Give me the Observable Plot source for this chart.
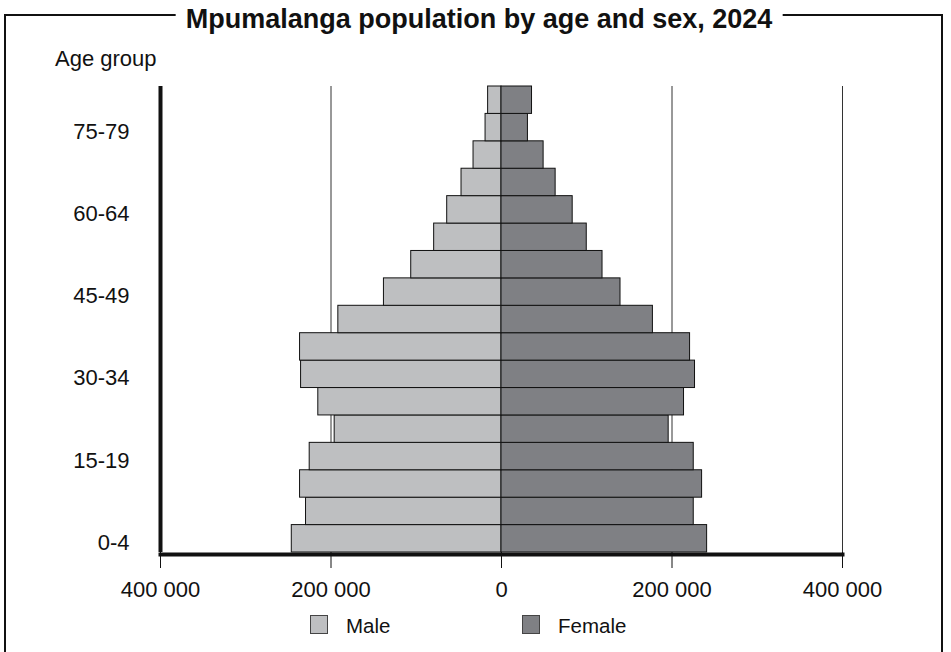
<!DOCTYPE html>
<html>
<head>
<meta charset="utf-8">
<script src="https://cdn.jsdelivr.net/npm/d3@7"></script>
<script src="https://cdn.jsdelivr.net/npm/@observablehq/plot@0.6"></script>
<style>
  html, body { margin: 0; padding: 0; background: #fff; }
  #wrap { position: relative; width: 951px; height: 652px; overflow: hidden; background: #fff;
          font-family: "Liberation Sans", Arial, Helvetica, sans-serif; color: #111; }
  #border { position: absolute; left: 4px; top: 14px; width: 939px; height: 700px;
            border: 2px solid #111; box-sizing: border-box; }
  #title { position: absolute; left: 479px; top: 6px; transform: translateX(-50%);
           background: #fff; padding: 0 10px; font-weight: bold; font-size: 27px;
           line-height: 1; white-space: nowrap; }
  #agelabel { position: absolute; left: 55px; top: 48px; font-size: 22px; line-height: 1; }
  #chart { position: absolute; left: 0; top: 0; }
  .sw { position: absolute; top: 615px; width: 18px; height: 19px; box-sizing: border-box;
        border: 1px solid #444; }
  .lt { position: absolute; top: 616px; font-size: 20.5px; line-height: 1; white-space: nowrap; }
</style>
</head>
<body>
<div id="wrap">
  <div id="border"></div>
  <div id="title">Mpumalanga population by age and sex, 2024</div>
  <div id="agelabel">Age group</div>
  <div id="chart"></div>
  <div class="sw" id="swMale" style="left:310px;"></div>
  <div class="lt" style="left:346px;">Male</div>
  <div class="sw" id="swFemale" style="left:522px;"></div>
  <div class="lt" style="left:558px;">Female</div>
</div>
<script>
const ageGroups = ["0-4","5-9","10-14","15-19","20-24","25-29","30-34","35-39","40-44",
                   "45-49","50-54","55-59","60-64","65-69","70-74","75-79","80+"];
const male   = [246000, 229300, 236300, 225000, 195700, 214900, 235100, 236300, 191400,
                137900, 105900, 79000, 63700, 46900, 32800, 18700, 15700];
const female = [241200, 225500, 235300, 225500, 196100, 214100, 227000, 221200, 177600,
                139600, 118500, 100000, 83500, 63500, 49400, 31000, 35800];
const sexes = ["Male", "Female"];
const sexColors = ["#bebfc1", "#7f8084"];
const xTicks = [-400000, -200000, 0, 200000, 400000];
const gridTicks = [-200000, 200000, 400000];
const yTickLabels = ["0-4", "15-19", "30-34", "45-49", "60-64", "75-79"];

document.getElementById("swMale").style.background = sexColors[0];
document.getElementById("swFemale").style.background = sexColors[1];

const data = ageGroups.flatMap((g, i) => [
  {age: g, sex: "Male", value: -male[i]},
  {age: g, sex: "Female", value: female[i]}
]);

const fmt = (d) => d3.format(",")(Math.abs(d)).replace(/,/g, " ");

const chart = Plot.plot({
  width: 951,
  height: 610,
  marginLeft: 160,
  marginRight: 109,
  marginTop: 86,
  marginBottom: 58,
  style: {fontFamily: '"Liberation Sans", Arial, sans-serif', fontSize: "22px", color: "#111", background: "transparent"},
  x: {domain: [-400000, 400000]},
  y: {domain: ageGroups, reverse: true, padding: 0, round: false},
  color: {domain: sexes, range: sexColors},
  marks: [
    Plot.gridX(gridTicks, {stroke: "#333", strokeOpacity: 1, strokeWidth: 1}),
    Plot.barX(data, {x: "value", y: "age", fill: "sex", stroke: "#111", strokeWidth: 1}),
    Plot.ruleX([-400000], {stroke: "#111", strokeWidth: 4}),
    Plot.frame({anchor: "bottom", stroke: "#111", strokeWidth: 4, dy: 2}),
    Plot.axisX(xTicks, {tickSize: 16, tickPadding: 13, tickFormat: fmt, label: null, fontSize: 22}),
    Plot.axisY(yTickLabels, {tickSize: 0, tickPadding: 31, dy: 4, label: null, fontSize: 22})
  ]
});
document.getElementById("chart").appendChild(chart);
</script>
</body>
</html>
